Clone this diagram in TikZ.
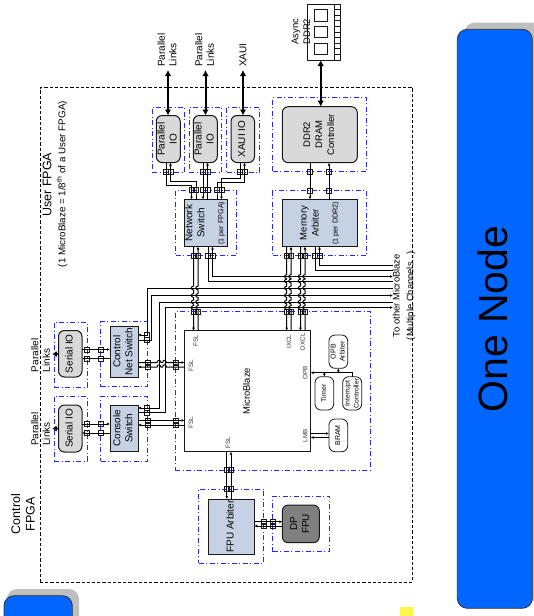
\documentclass[tikz,border=0pt]{standalone}
\usepackage{fontspec}
\usepackage{graphicx}
\setmainfont{Liberation Sans}
\usetikzlibrary{arrows.meta,calc}
\definecolor{swblue}{HTML}{C6D2E4}
\definecolor{iogray}{HTML}{D9D9D9}
\definecolor{nodeblue}{HTML}{0066FF}
\newcommand\fsz[2]{\fontsize{#1}{#2}\selectfont}
\newcommand\rl[1]{\rotatebox{90}{\begin{tabular}{@{}c@{}}#1\end{tabular}}}
\newcommand\bx[7]{\pgfmathsetmacro\cxx{(#3+#5)/2}\pgfmathsetmacro\cyy{(#4+#6)/2}\pgfmathsetmacro\wxx{#5-#3}\pgfmathsetmacro\hxx{#6-#4}\node[#1,minimum width=\wxx pt,minimum height=\hxx pt] (#2) at (\cxx,\cyy) {#7};}
\newcommand\J[3]{\node[joint] (#1) at (#2,#3) {};}
\newcommand\vhops[2]{\foreach \h in {#2} { -- (#1,\h-2) .. controls (#1-3,\h-1) and (#1-3,\h+1) .. (#1,\h+2) }}
\newcommand\hhops[2]{\foreach \h in {#2} { -- (\h-2,#1) .. controls (\h-1,#1-3) and (\h+1,#1-3) .. (\h+2,#1) }}
\tikzset{
  >={Latex[length=3pt,width=2.8pt]},
  base/.style={inner sep=0pt,outer sep=0pt,align=center},
  groupbox/.style={base,draw=blue!85!white,line width=.8pt,dash pattern=on 5pt off 2.5pt on 1pt off 2.5pt},
  iobox/.style={base,draw=black!90,line width=1pt,fill=iogray,rounded corners=6pt,font=\fsz{10}{12},text=black},
  swbox/.style={base,draw=black!90,line width=1pt,fill=swblue,font=\fsz{10}{12},text=black},
  smallbox/.style={base,draw=black!90,line width=.8pt,fill=white,rounded corners=6pt,font=\fsz{7}{9},text=black},
  mbbox/.style={base,draw=black!90,line width=1pt,fill=white,font=\fsz{9.4}{11},text=black},
  bigbox/.style={base,draw=black!80,line width=.8pt,fill=nodeblue,rounded corners=10pt},
  shadowbox/.style={base,fill=black!25,rounded corners=10pt},
  joint/.style={draw=black!90,line width=.75pt,minimum size=5pt,inner sep=0pt,outer sep=0pt},
  wire/.style={draw=black,line width=1pt},
  bus/.style={draw=black,line width=2pt,{Latex[length=6pt,width=6.5pt]}-{Latex[length=6pt,width=6.5pt]}},
  vtext/.style={base,rotate=90,anchor=west,align=left,font=\fsz{10}{11.5},text=black},
  title/.style={base,rotate=90,font=\fsz{12.5}{14.5},text=black},
  port/.style={base,rotate=90,font=\fsz{6.3}{7},text=black!80},
}
\begin{document}
\begin{tikzpicture}[x=1pt,y=-1pt]
\useasboundingbox (0,0) rectangle (533,616);
% big side blocks
\bx{shadowbox}{nodeS}{464.5}{22.7}{545}{601}{}
\bx{bigbox}{nodeA}{457.3}{29.3}{532.3}{608.3}{}
\node[base,rotate=90,font=\fsz{41}{45},text=black] (nodeT) at (493,319) {One Node};
\bx{shadowbox}{restS}{7}{589}{79}{650}{}
\bx{bigbox}{restA}{4}{595.7}{72.3}{650}{}
\bx{base,fill=yellow!70!white}{mark}{400}{607.3}{413.3}{616}{}
% FPGA border
\bx{base,draw=black,line width=.8pt,dash pattern=on 3.2pt off 2pt}{fpga}{40}{87.5}{412.7}{582}{}
\node[title] (ut) at (47,184.7) {User FPGA};
\node[base,rotate=90,font=\fsz{9.8}{11},text=black] (us) at (62,184.2) {(1 MicroBlaze = 1/8\textsuperscript{th} of a User FPGA)};
\node[title] (ct) at (24.5,514) {\begin{tabular}{@{}c@{}}Control\\FPGA\end{tabular}};
% group boxes
\bx{groupbox}{g1}{152}{107}{184.5}{172}{}
\bx{groupbox}{g2}{189}{107}{221.5}{172}{}
\bx{groupbox}{g3}{226.5}{107}{259.5}{172}{}
\bx{groupbox}{g4}{175.5}{190}{236}{255.5}{}
\bx{groupbox}{g5}{272.7}{97.7}{366.7}{171.7}{}
\bx{groupbox}{g6}{272.7}{190.5}{366.7}{255.5}{}
\bx{groupbox}{g7}{175.3}{311.7}{370.7}{470}{}
\bx{groupbox}{g8}{54}{322}{87}{387}{}
\bx{groupbox}{g9}{54}{396}{87}{461}{}
\bx{groupbox}{g10}{100.5}{321.5}{147}{386.5}{}
\bx{groupbox}{g11}{100.5}{396}{147}{461}{}
\bx{groupbox}{g12}{198.7}{489}{263.7}{563.3}{}
\bx{groupbox}{g13}{272.7}{496}{329.3}{551.7}{}
% blocks
\bx{iobox}{pio1}{156.5}{115.5}{180}{162.5}{\rl{Parallel\\IO}}
\bx{iobox}{pio2}{193.5}{115.5}{217}{162.5}{\rl{Parallel\\IO}}
\bx{iobox}{xio}{231}{115.5}{254.5}{162.5}{\rl{XAUI IO}}
\bx{iobox,font=\fsz{9.5}{12}}{ddr}{282.3}{106.7}{357.3}{162.7}{\rl{DDR2\\DRAM\\Controller}}
\bx{swbox}{ns}{184.5}{199.5}{226.5}{246.5}{\rl{Network\\Switch\\[7pt]{\fsz{7.2}{8}(1 per FPGA)}}}
\bx{swbox,font=\fsz{9.5}{12}}{ma}{282.3}{199.5}{357}{246.5}{\rl{Memory\\Arbiter\\[7pt]{\fsz{7.2}{8}(1 per DDR2)}}}
\bx{mbbox}{mb}{184.5}{330.7}{310.7}{451.7}{\rl{MicroBlaze}}
\bx{swbox}{cn}{110}{326.5}{138}{377}{\rl{Control\\Net Switch}}
\bx{swbox}{cs}{110}{405}{138}{451.5}{\rl{Console\\Switch}}
\bx{iobox}{ser1}{58.5}{330.5}{82}{377}{\rl{Serial IO}}
\bx{iobox}{ser2}{58.5}{405}{82}{452}{\rl{Serial IO}}
\bx{swbox}{fa}{208}{499}{254.3}{554}{\rl{FPU Arbiter}}
\bx{iobox,fill=black!50}{dp}{282.3}{505}{319.3}{542.7}{\rl{DP\\FPU}}
\bx{smallbox}{opa}{329}{335}{347.7}{368.3}{\rl{OPB\\Arbiter}}
\bx{smallbox}{tm}{315}{376.7}{333.7}{410}{\rl{Timer}}
\bx{smallbox,font=\fsz{6.8}{9}}{ic}{342.7}{376.7}{361.7}{410}{\rl{Interrupt\\Controller}}
\bx{smallbox}{bram}{329}{419}{347.7}{451.7}{\rl{BRAM}}
% DIMM
\bx{base,draw=black!90,line width=.8pt,fill=white}{dimm}{307.7}{4}{340.7}{60}{}
\bx{base,draw=black!90,line width=.8pt}{c1}{314.3}{9.3}{327.7}{21.7}{}
\bx{base,draw=black!90,line width=.8pt}{c2}{314.3}{26}{327.7}{37.7}{}
\bx{base,draw=black!90,line width=.8pt}{c3}{314.3}{43.3}{327.7}{54.3}{}
\draw[black!90,line width=.7pt] (334,4) -- (334,60);
\foreach \y in {9.6,15.2,20.8,26.4,32,37.6,43.2,48.8,54.4} \draw[black!90,line width=.7pt] (334,\y) -- (340.7,\y);
\node[base,rotate=90,font=\fsz{9.5}{11.7},text=black] (dt) at (302,31.7) {\begin{tabular}{@{}c@{}}Async\\DDR2\end{tabular}};
% external labels
\node[vtext] (t1) at (167,66.7) {Parallel\\Links};
\node[vtext] (t2) at (204.5,66.7) {Parallel\\Links};
\node[vtext] (t3) at (243,66.7) {XAUI};
\node[vtext] (t4) at (40.5,372) {Parallel\\Links};
\node[vtext] (t5) at (40.5,445.7) {Parallel\\Links};
\node[base,rotate=90,font=\fsz{9.4}{13.6},text=black] (t6) at (403.8,295.7) {\begin{tabular}{@{}c@{}}To other MicroBlaze\\(Multiple Channels...)\end{tabular}};
% port labels
\node[port] (pf1) at (195.7,340.7) {FSL};
\node[port] (pf2) at (191,365.7) {FSL};
\node[port] (pf3) at (191,422.7) {FSL};
\node[port] (pf4) at (228,442.7) {FSL};
\node[port] (pi) at (289,341.7) {IXCL};
\node[port] (pd) at (302.7,341.7) {DXCL};
\node[port] (po) at (305.3,372.7) {OPB};
\node[port] (pl) at (305.3,435.7) {LMB};
% joints
\J{j1a}{166}{172}\J{j1b}{170.5}{172}\J{j2a}{203}{172}\J{j2b}{207.5}{172}\J{j3a}{240}{172}\J{j3b}{244.5}{172}
\J{n1a}{191.5}{190}\J{n1b}{196}{190}\J{n2a}{203}{190}\J{n2b}{207.5}{190}\J{n3a}{217}{190}\J{n3b}{221.5}{190}
\J{n4a}{193.5}{255.5}\J{n4b}{198}{255.5}\J{n5a}{208}{255.5}\J{n5b}{212.5}{255.5}
\J{m1a}{193.5}{311.7}\J{m1b}{198}{311.7}
\J{k1a}{310}{171.7}\J{k1b}{329}{171.7}\J{k2a}{310}{190.5}\J{k2b}{329}{190.5}
\J{a1a}{286.7}{255.5}\J{a1b}{291}{255.5}\J{a2a}{300.5}{255.5}\J{a2b}{305}{255.5}\J{a3a}{315}{255.5}\J{a3b}{319.5}{255.5}
\J{m2a}{286.7}{311.7}\J{m2b}{291}{311.7}\J{m3a}{300.5}{311.7}\J{m3b}{305}{311.7}
\J{c1a}{147}{335}\J{c1b}{147}{340}\J{c2a}{147.5}{362.5}\J{c2b}{147.5}{367}\J{c3a}{175.5}{362.5}\J{c3b}{175.5}{367}
\J{d1a}{147}{408}\J{d1b}{147}{412.5}\J{d2a}{147.5}{420.5}\J{d2b}{147.5}{425}\J{d3a}{175.5}{420.5}\J{d3b}{175.5}{425}
\J{s1a}{87}{349.5}\J{s1b}{87}{358.5}\J{s2a}{101}{349.5}\J{s2b}{101}{358.5}
\J{s3a}{87}{424}\J{s3b}{87}{433}\J{s4a}{101}{424}\J{s4b}{101}{433}
\J{f1a}{226.7}{470}\J{f1b}{231}{470}\J{f2a}{226.7}{489}\J{f2b}{231}{489}
\J{f3a}{263.7}{521.7}\J{f3b}{263.7}{526}\J{f4a}{272.7}{521.7}\J{f4b}{272.7}{526}
% free ends
\coordinate (e1) at (393,265);
\coordinate (e2) at (393,270);
\coordinate (e3) at (393,276.5);
\coordinate (e4) at (393,281);
\coordinate (e5) at (393,288);
\coordinate (e6) at (393,295.5);
\coordinate (e7) at (393,302);
\coordinate (e8) at (393,307.5);
\coordinate (xt1) at (168,70);
\coordinate (xt2) at (205.5,70);
\coordinate (xt3) at (243,70);
\coordinate (xt4) at (52.5,354);
\coordinate (xt5) at (52.5,428.5);
% heavy buses
\draw[bus] (xt1) -- (pio1.north -| xt1);
\draw[bus] (xt2) -- (pio2.north -| xt2);
\draw[bus] (xt3) -- (xio.north -| xt3);
\draw[bus] (dimm.south -| 320.7,0) -- (ddr.north -| 320.7,0);
\draw[bus,{Latex[length=4pt,width=6pt]}-{Latex[length=3pt,width=6pt]}] (xt4) -- (ser1.west |- xt4);
\draw[bus,{Latex[length=4pt,width=6pt]}-{Latex[length=3pt,width=6pt]}] (xt5) -- (ser2.west |- xt5);
% IO to network switch
\draw[wire,->] (pio1.south -| j1a) -- (j1a |- 0,185.5) -| (n1a.center) -- (ns.north -| n1a);
\draw[wire,<-] (pio1.south -| j1b) -- (j1b |- 0,181.5) -| (n1b.center) -- (ns.north -| n1b);
\draw[wire,->] (pio2.south -| j2a) -- (ns.north -| n2a);
\draw[wire,<-] (pio2.south -| j2b) -- (ns.north -| n2b);
\draw[wire,->] (xio.south -| j3a) -- (j3a |- 0,178) -| (n3b.center) -- (ns.north -| n3b);
\draw[wire,<-] (xio.south -| j3b) -- (j3b |- 0,182.5) -| (n3a.center) -- (ns.north -| n3a);
% DDR to arbiter
\draw[wire,->] (ddr.south -| k1a) -- (ma.north -| k1a);
\draw[wire,<-] (ddr.south -| k1b) -- (ma.north -| k1b);
% network switch / memory arbiter to MicroBlaze, hopping over the channels
\draw[wire,->] (ns.south -| n4a) -- (193.5,280) \vhops{193.5}{288,295.5,302,307.5} -- (mb.north -| m1a);
\draw[wire,<-] (ns.south -| n4b) -- (198,280) \vhops{198}{288,295.5,302,307.5} -- (mb.north -| m1b);
\draw[wire,->] (ma.south -| a1a) -- (286.7,270) \vhops{286.7}{276.5,281,288,295.5,302,307.5} -- (mb.north -| m2a);
\draw[wire,<-] (ma.south -| a1b) -- (291,270) \vhops{291}{276.5,281,288,295.5,302,307.5} -- (mb.north -| m2b);
\draw[wire,->] (ma.south -| a2a) -- (300.5,270) \vhops{300.5}{276.5,281,288,295.5,302,307.5} -- (mb.north -| m3a);
\draw[wire,<-] (ma.south -| a2b) -- (305,270) \vhops{305}{276.5,281,288,295.5,302,307.5} -- (mb.north -| m3b);
% channels to the other MicroBlaze
\draw[wire] (ns.south -| n5a) |- (e4);
\draw[wire,<->] (ns.south -| n5b) |- (e3);
\draw[wire] (ma.south -| a3a) |- (e2);
\draw[wire,<-] (ma.south -| a3b) |- (e1);
\draw[wire,<-] (cn.east |- c1a) -- (c1a.center) |- (e5);
\draw[wire,->] (cn.east |- c1b) -- (151,340) |- (e6);
\draw[wire,<-] (cs.east |- d1a) -- (159,408) |- (e7);
\draw[wire,->] (cs.east |- d1b) -- (165,412.5) |- (e8);
% switches to MicroBlaze
\draw[wire,->] (cn.east |- c2a) \hhops{362.5}{159,164.5} -- (mb.west |- c3a);
\draw[wire,<-] (cn.east |- c2b) \hhops{367}{159,164.5} -- (mb.west |- c3b);
\draw[wire,->] (cs.east |- d2a) -- (mb.west |- d3a);
\draw[wire,<-] (cs.east |- d2b) -- (mb.west |- d3b);
% serial IO
\draw[wire,->] (ser1.east |- s1a) -- (cn.west |- s2a);
\draw[wire,<-] (ser1.east |- s1b) -- (cn.west |- s2b);
\draw[wire,->] (ser2.east |- s3a) -- (cs.west |- s4a);
\draw[wire,<-] (ser2.east |- s3b) -- (cs.west |- s4b);
% FPU
\draw[wire,->] (mb.south -| f1a) -- (fa.north -| f2a);
\draw[wire,<-] (mb.south -| f1b) -- (fa.north -| f2b);
\draw[wire,->] (fa.east |- f3a) -- (dp.west |- f4a);
\draw[wire,<-] (fa.east |- f3b) -- (dp.west |- f4b);
% OPB bus and BRAM
\coordinate (opbr) at (352.3,372.7);
\draw[wire,<-] (mb.east |- opbr) -- (opbr) -- (ic.north -| opbr);
\draw[wire,->] (tm.north |- opbr) -- (tm.north);
\draw[wire,->] (opa.south |- opbr) -- (opa.south);
\draw[wire,->] (mb.east |- 0,433.5) -- (bram.west |- 0,433.5);
\draw[wire,<-] (mb.east |- 0,437.5) -- (bram.west |- 0,437.5);
\end{tikzpicture}
\end{document}
